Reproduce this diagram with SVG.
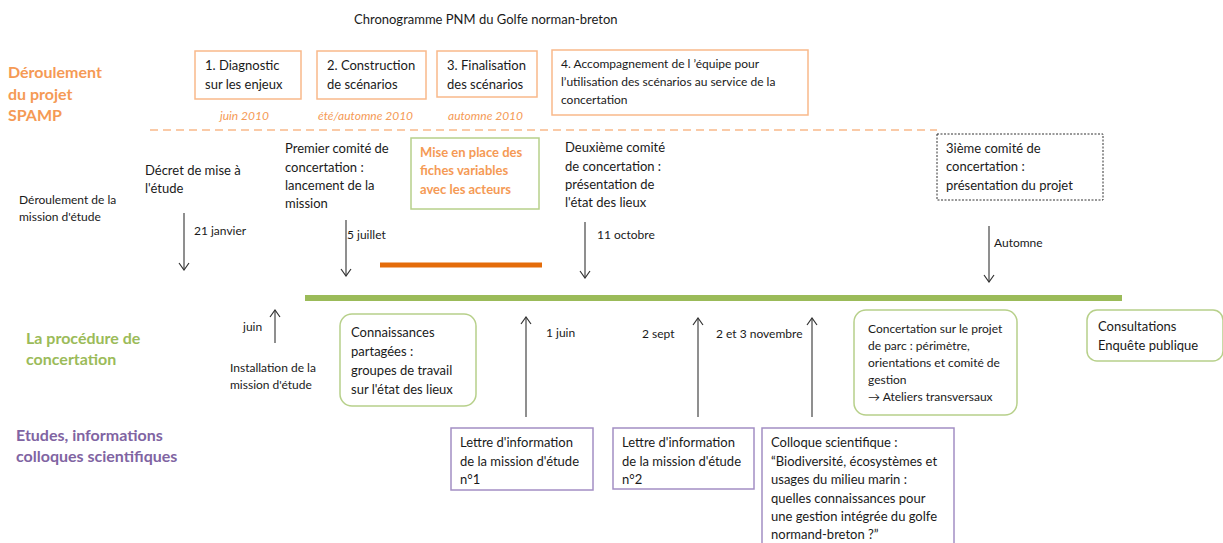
<svg xmlns="http://www.w3.org/2000/svg" width="1223" height="543" viewBox="0 0 1223 543">
  <defs>
    <!-- open V arrowhead, drawn along +x so orient="auto" follows the line -->
    <marker id="vhead" viewBox="0 0 12 12" refX="11" refY="6" markerWidth="12" markerHeight="12" markerUnits="userSpaceOnUse" orient="auto">
      <path d="M4,1 L11,6 L4,11" fill="none" stroke="#333" stroke-width="1.2"/>
    </marker>
    <style>
      text { font-family: Lato, "Liberation Sans", sans-serif; fill: #1a1a1a; font-size: 13px; }
      .sm { font-size: 12px; }
      .hdr { font-size: 16px; font-weight: bold; }
      .orange { fill: #F59A55; }
      .green { fill: #9BBB59; }
      .purple { fill: #8064A2; }
      .date { font-size: 12px; font-style: italic; fill: #F59A55; }
      .phase { fill: #fff; stroke: #F9B98A; stroke-width: 1.5; }
      .round { fill: #fff; stroke: #B7D08A; stroke-width: 1.5; }
      .lettre { fill: #fff; stroke: #A38EC4; stroke-width: 1.5; }
      .arrow { stroke: #333; stroke-width: 1.1; fill: none; marker-end: url(#vhead); }
    </style>
  </defs>

  <!-- title -->
  <text x="354" y="24">Chronogramme PNM du Golfe norman-breton</text>

  <!-- row labels -->
  <g id="label-spamp">
    <text class="hdr orange" x="8" y="78">Déroulement</text>
    <text class="hdr orange" x="8" y="100">du projet</text>
    <text class="hdr orange" x="8" y="121">SPAMP</text>
  </g>
  <g id="label-mission">
    <text class="sm" x="19" y="204">Déroulement de la</text>
    <text class="sm" x="19" y="221">mission d'étude</text>
  </g>
  <g id="label-concertation">
    <text class="hdr green" x="26" y="344">La procédure de</text>
    <text class="hdr green" x="26" y="365">concertation</text>
  </g>
  <g id="label-etudes">
    <text class="hdr purple" x="16" y="441">Etudes, informations</text>
    <text class="hdr purple" x="16" y="462">colloques scientifiques</text>
  </g>

  <!-- SPAMP phases -->
  <g id="phase-1">
    <rect class="phase" x="195" y="51" width="106" height="48"/>
    <text x="205" y="70">1. Diagnostic</text>
    <text x="205" y="89">sur les enjeux</text>
    <text class="date" x="220" y="120">juin 2010</text>
  </g>
  <g id="phase-2">
    <rect class="phase" x="317" y="51" width="109" height="48"/>
    <text x="327" y="70">2. Construction</text>
    <text x="327" y="89">de scénarios</text>
    <text class="date" x="318" y="120">été/automne 2010</text>
  </g>
  <g id="phase-3">
    <rect class="phase" x="437" y="51" width="100" height="46"/>
    <text x="447" y="70">3. Finalisation</text>
    <text x="447" y="89">des scénarios</text>
    <text class="date" x="448" y="120">automne 2010</text>
  </g>
  <g id="phase-4">
    <rect class="phase" x="552" y="50" width="256" height="65"/>
    <text class="sm" x="561" y="68">4. Accompagnement de l ’équipe pour</text>
    <text class="sm" x="561" y="86">l’utilisation des scénarios au service de la</text>
    <text class="sm" x="561" y="104">concertation</text>
  </g>

  <!-- separator -->
  <line x1="150" y1="130" x2="937" y2="130" stroke="#F9B98A" stroke-width="1.5" stroke-dasharray="8 5"/>

  <!-- mission milestones -->
  <g id="decret">
    <text x="145" y="175">Décret de mise à</text>
    <text x="145" y="193">l'étude</text>
  </g>
  <g id="comite-1">
    <text x="285" y="153">Premier comité de</text>
    <text x="285" y="172">concertation :</text>
    <text x="285" y="190">lancement de la</text>
    <text x="285" y="208">mission</text>
  </g>
  <g id="fiches">
    <rect x="411" y="138" width="128" height="71" fill="#fff" stroke="#B7D08A" stroke-width="1.5"/>
    <text class="orange" font-weight="bold" x="420" y="157">Mise en place des</text>
    <text class="orange" font-weight="bold" x="420" y="175">fiches variables</text>
    <text class="orange" font-weight="bold" x="420" y="194">avec les acteurs</text>
  </g>
  <g id="comite-2">
    <text x="565" y="152">Deuxième comité</text>
    <text x="565" y="171">de concertation :</text>
    <text x="565" y="189">présentation de</text>
    <text x="565" y="207">l'état des lieux</text>
  </g>
  <g id="comite-3">
    <rect x="937" y="134" width="166" height="66" fill="#fff" stroke="#333" stroke-width="1" stroke-dasharray="2 1.5"/>
    <text x="946" y="153">3ième comité de</text>
    <text x="946" y="171">concertation :</text>
    <text x="946" y="190">présentation du projet</text>
  </g>

  <!-- timelines -->
  <line x1="380" y1="265" x2="542" y2="265" stroke="#E46C0A" stroke-width="5"/>
  <line x1="305" y1="298" x2="1122" y2="298" stroke="#9BBB59" stroke-width="6"/>

  <!-- concertation items -->
  <g id="installation">
    <text class="sm" x="243" y="331">juin</text>
    <text class="sm" x="230" y="372">Installation de la</text>
    <text class="sm" x="230" y="389">mission d'étude</text>
  </g>
  <g id="connaissances">
    <rect class="round" x="340" y="314" width="136" height="92" rx="12"/>
    <text x="351" y="337">Connaissances</text>
    <text x="351" y="356">partagées :</text>
    <text x="351" y="375">groupes de travail</text>
    <text x="351" y="394">sur l'état des lieux</text>
  </g>
  <g id="concertation-projet">
    <rect class="round" x="854" y="310" width="163" height="105" rx="12"/>
    <text class="sm" x="868" y="333">Concertation sur le projet</text>
    <text class="sm" x="868" y="350">de parc : périmètre,</text>
    <text class="sm" x="868" y="367">orientations et comité de</text>
    <text class="sm" x="868" y="384">gestion</text>
    <text class="sm" x="868" y="401">→ Ateliers transversaux</text>
  </g>
  <g id="consultations">
    <rect class="round" x="1087" y="310" width="136" height="51" rx="10"/>
    <text x="1098" y="331">Consultations</text>
    <text x="1098" y="350">Enquête publique</text>
  </g>

  <!-- date labels -->
  <text class="sm" x="194" y="235">21 janvier</text>
  <text class="sm" x="347" y="239">5 juillet</text>
  <text class="sm" x="597" y="239">11 octobre</text>
  <text class="sm" x="994" y="247">Automne</text>
  <text class="sm" x="546" y="337">1 juin</text>
  <text class="sm" x="642" y="338">2 sept</text>
  <text class="sm" x="716" y="338">2 et 3 novembre</text>

  <!-- information letters and colloquium -->
  <g id="lettre-1">
    <rect class="lettre" x="451" y="428" width="142" height="62"/>
    <text x="460" y="447">Lettre d'information</text>
    <text x="460" y="466">de la mission d'étude</text>
    <text x="460" y="484">n°1</text>
  </g>
  <g id="lettre-2">
    <rect class="lettre" x="613" y="428" width="141" height="61"/>
    <text x="622" y="447">Lettre d'information</text>
    <text x="622" y="466">de la mission d'étude</text>
    <text x="622" y="484">n°2</text>
  </g>
  <g id="colloque">
    <rect class="lettre" x="762" y="428" width="192" height="120"/>
    <text x="771" y="447">Colloque scientifique  :</text>
    <text x="771" y="466">“Biodiversité, écosystèmes et</text>
    <text x="771" y="484">usages du milieu marin :</text>
    <text x="771" y="503">quelles connaissances pour</text>
    <text x="771" y="521">une gestion intégrée du golfe</text>
    <text x="771" y="539">normand-breton ?”</text>
  </g>

  <!-- connectors -->
  <g id="connectors">
    <line class="arrow" x1="184" y1="213" x2="184" y2="270"/>
    <line class="arrow" x1="346" y1="220" x2="346" y2="276"/>
    <line class="arrow" x1="585" y1="222" x2="585" y2="278"/>
    <line class="arrow" x1="989" y1="226" x2="989" y2="282"/>
    <line class="arrow" x1="275" y1="343" x2="275" y2="310"/>
    <line class="arrow" x1="526" y1="417" x2="526" y2="317"/>
    <line class="arrow" x1="698" y1="417" x2="698" y2="318"/>
    <line class="arrow" x1="812" y1="417" x2="812" y2="318"/>
  </g>
</svg>
